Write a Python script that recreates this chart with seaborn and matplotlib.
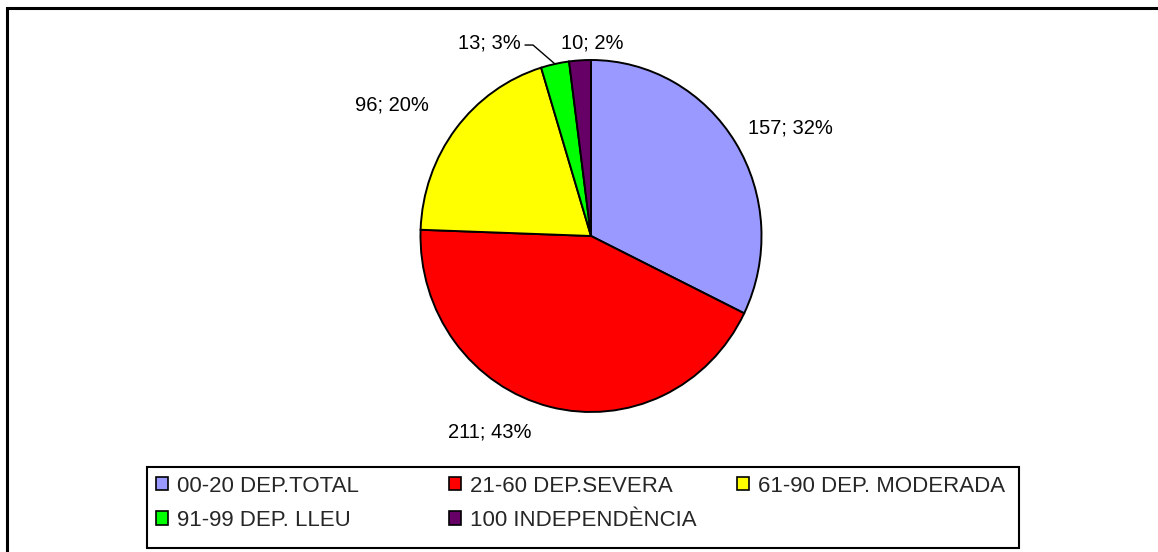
import matplotlib
matplotlib.use("Agg")
import matplotlib.pyplot as plt
import seaborn as sns
from matplotlib.patches import Patch, Rectangle
import numpy as np


# DATA

categories = ["00-20 DEP.TOTAL", "21-60 DEP.SEVERA", "61-90 DEP. MODERADA",
              "91-99 DEP. LLEU", "100 INDEPENDÈNCIA"]
counts = [157, 211, 96, 13, 10]
colors = ["#9999FF", "#FF0000", "#FFFF00", "#00FF00", "#660066"]

# label anchors (axes data units, pie radius = 1)
label_pos = [(1.167, 0.614), (-0.592, -1.114), (-1.167, 0.744),
             (-0.598, 1.097), (0.006, 1.097)]


# STYLE

sns.set_theme(style="white")
plt.rcParams["font.family"] = ["Liberation Sans", "DejaVu Sans"]

W, H = 1158, 552
fig = plt.figure(figsize=(W / 100, H / 100), dpi=100)
fig.patch.set_facecolor("white")

# outer chart border (only top/left visible)
fig.add_artist(Rectangle((7 / W, -0.1), 1.2, 1 - 8 / H + 0.1, transform=fig.transFigure,
                         fill=False, edgecolor="black", linewidth=2.2))

# PIE
cx, cy, rx, ry = 591, 236, 170.5, 176
ax = fig.add_axes([(cx - rx) / W, (H - cy - ry) / H, 2 * rx / W, 2 * ry / H])
palette = sns.color_palette(colors)
wedges, _ = ax.pie(counts, colors=palette, startangle=90, counterclock=False,
                   wedgeprops=dict(edgecolor="black", linewidth=1.4))
ax.set_aspect("auto")
ax.set_xlim(-1, 1)
ax.set_ylim(-1, 1)
ax.axis("off")

total = sum(counts)
for v, (lx, ly) in zip(counts, label_pos):
    ax.text(lx, ly, f"{v}; {round(100 * v / total)}%", ha="center", va="center",
            fontsize=14.5, color="black", clip_on=False)

# leader line for the small green slice
w = wedges[3]
mid = np.deg2rad((w.theta1 + w.theta2) / 2)
ex, ey = np.cos(mid), np.sin(mid)
ax.plot([-0.387, -0.340, ex], [1.085, 1.085, ey], color="black", linewidth=1,
        clip_on=False)

# LEGEND (three columns, Excel-like placement)
handles = [Patch(facecolor=c, edgecolor="black", linewidth=1.2) for c in colors]
cols = [[0, 3], [1, 4], [2]]
col_x = [156, 449, 737]
for idx, x in zip(cols, col_x):
    fig.legend([handles[i] for i in idx], [categories[i] for i in idx],
               loc="upper left", bbox_to_anchor=(x / W, 1 - 475.5 / H),
               bbox_transform=fig.transFigure, frameon=False, fontsize=16,
               borderpad=0, borderaxespad=0, handlelength=0.54, handleheight=0.54,
               handletextpad=0.4, labelspacing=0.6)

fig.add_artist(Rectangle((147 / W, 1 - 548 / H), (1019 - 147) / W, (548 - 467) / H,
                         transform=fig.transFigure, fill=False, edgecolor="black",
                         linewidth=1.5))

plt.savefig("out.png", dpi=100)
plt.close()
